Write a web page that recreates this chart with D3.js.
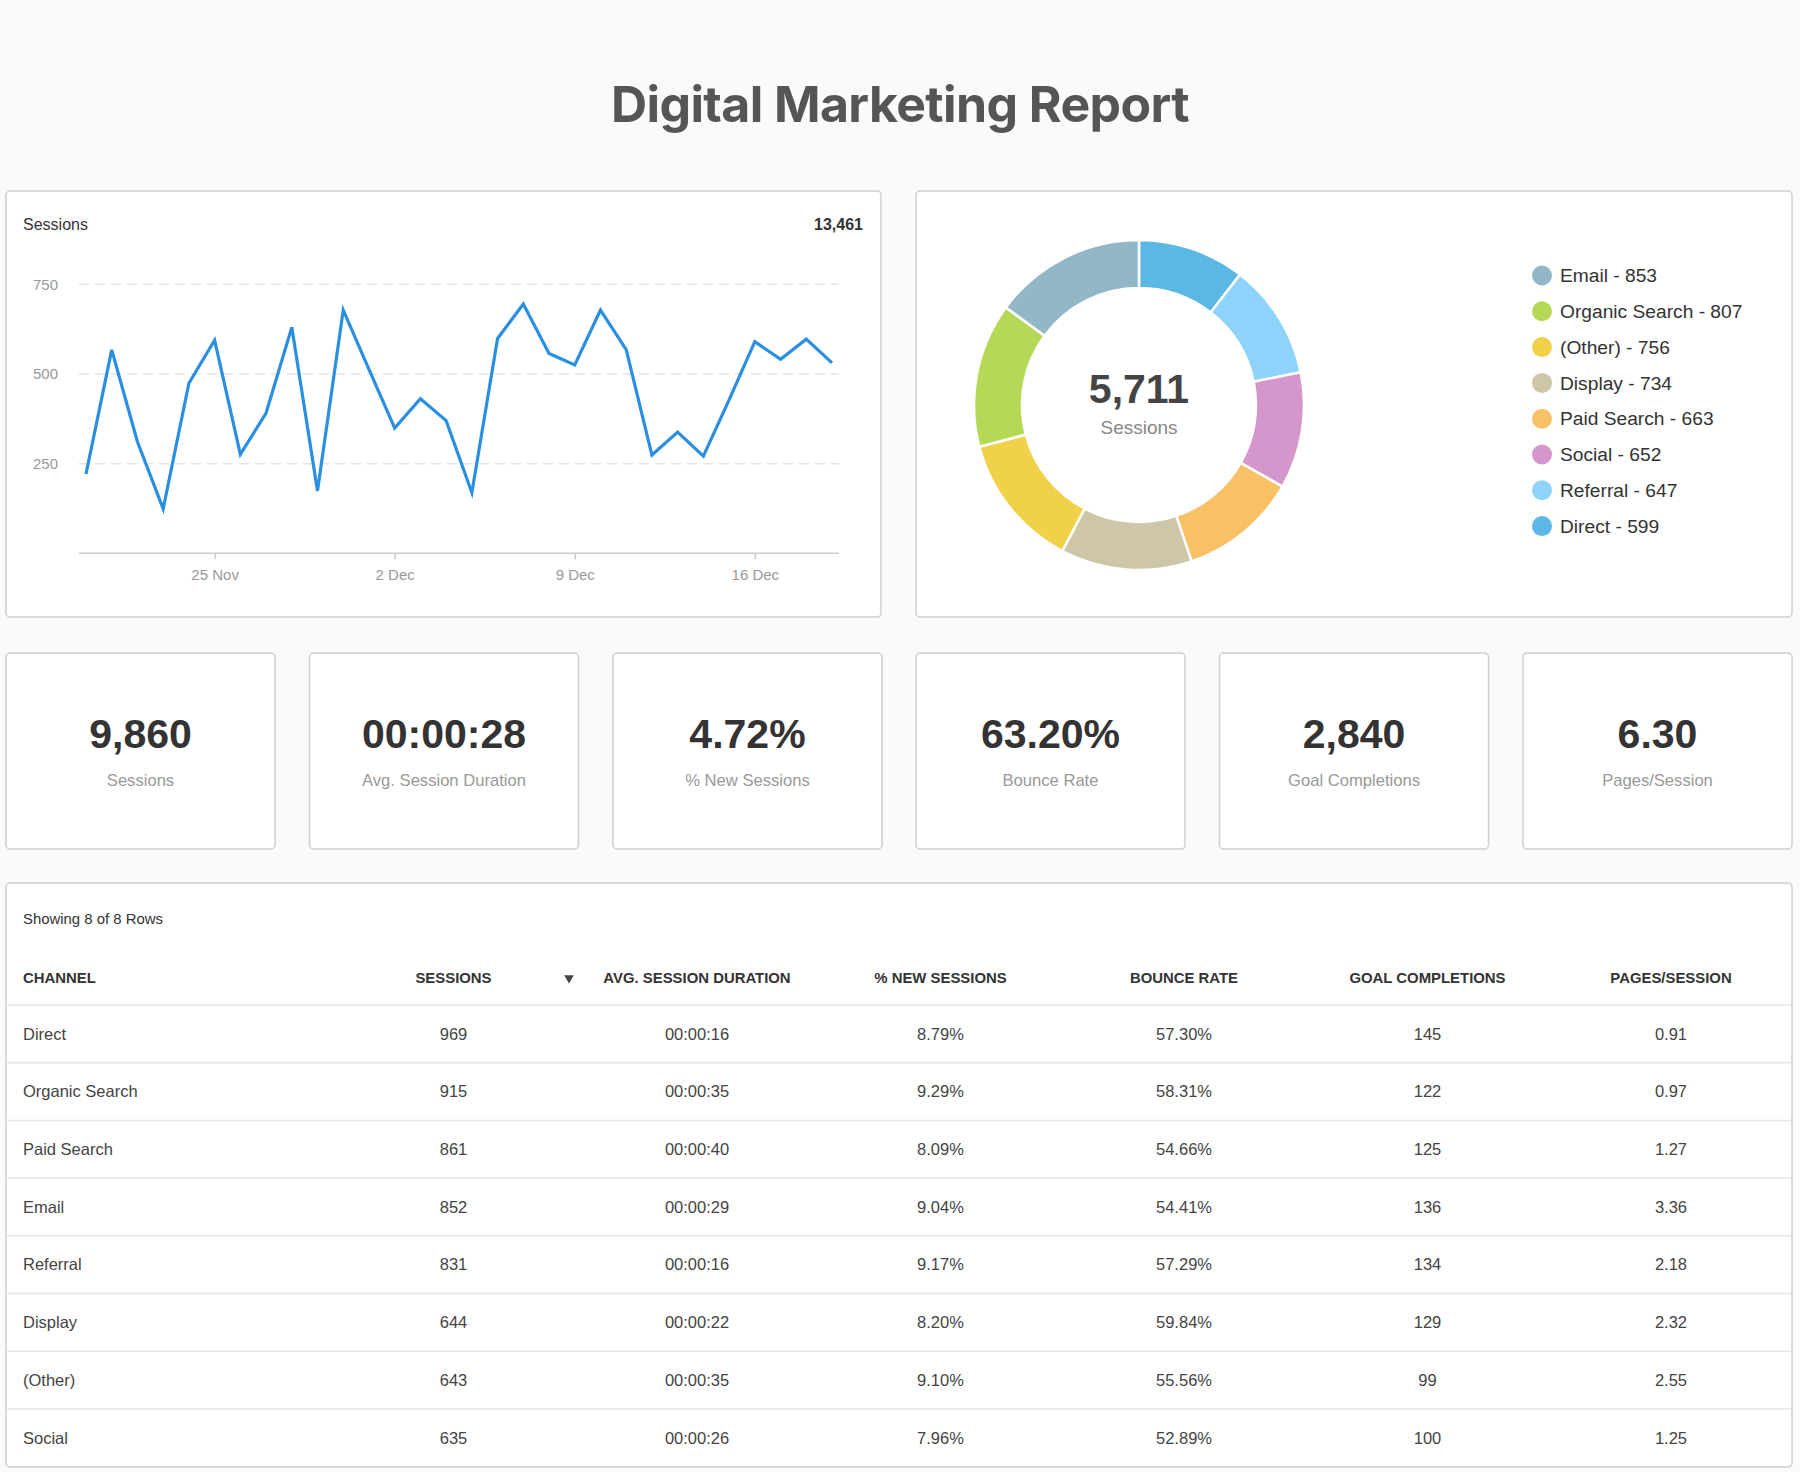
<!DOCTYPE html>
<html>
<head>
<meta charset="utf-8">
<script src="https://cdn.jsdelivr.net/npm/d3@7"></script>
<style>
  html, body { margin: 0; padding: 0; background: #fafafa; }
  svg { display: block; }
  text { font-family: "Liberation Sans", Arial, sans-serif; }
</style>
</head>
<body>
<svg id="chart" width="1800" height="1472"></svg>
<script>
// ---------- DATA ----------
const reportTitle = "Digital Marketing Report";

const sessionDates = d3.timeDays(new Date(2023, 10, 20), new Date(2023, 11, 20)); // 20 Nov .. 19 Dec
const sessionValues = [221, 567, 311, 124, 474, 594, 276, 391, 630, 174,
                       678, 513, 349, 431, 370, 169, 599, 695, 557, 525,
                       678, 568, 274, 338, 271, 428, 590, 541, 597, 531];
const sessionTotal = "13,461";
const yTicks = [250, 500, 750];
const xTickDates = [new Date(2023, 10, 25), new Date(2023, 11, 2), new Date(2023, 11, 9), new Date(2023, 11, 16)];

const donutChannels = ["Direct", "Referral", "Social", "Paid Search", "Display", "(Other)", "Organic Search", "Email"];
const donutValues   = [599, 647, 652, 663, 734, 756, 807, 853];
const donutColors   = ["#5bb8e4", "#8ed3fc", "#d596cb", "#f9c166", "#cdc6a8", "#f1d04a", "#b5d957", "#92b7c6"];
const donutTotal = "5,711";
const donutLabel = "Sessions";

const kpiValues = ["9,860", "00:00:28", "4.72%", "63.20%", "2,840", "6.30"];
const kpiLabels = ["Sessions", "Avg. Session Duration", "% New Sessions", "Bounce Rate", "Goal Completions", "Pages/Session"];

const tableCaption = "Showing 8 of 8 Rows";
const tableHeaders = ["CHANNEL", "SESSIONS", "AVG. SESSION DURATION", "% NEW SESSIONS", "BOUNCE RATE", "GOAL COMPLETIONS", "PAGES/SESSION"];
const tableChannels = ["Direct", "Organic Search", "Paid Search", "Email", "Referral", "Display", "(Other)", "Social"];
const tableSessions = ["969", "915", "861", "852", "831", "644", "643", "635"];
const tableDuration = ["00:00:16", "00:00:35", "00:00:40", "00:00:29", "00:00:16", "00:00:22", "00:00:35", "00:00:26"];
const tableNewSess  = ["8.79%", "9.29%", "8.09%", "9.04%", "9.17%", "8.20%", "9.10%", "7.96%"];
const tableBounce   = ["57.30%", "58.31%", "54.66%", "54.41%", "57.29%", "59.84%", "55.56%", "52.89%"];
const tableGoals    = ["145", "122", "125", "136", "134", "129", "99", "100"];
const tablePages    = ["0.91", "0.97", "1.27", "3.36", "2.18", "2.32", "2.55", "1.25"];

// ---------- DRAW ----------
const svg = d3.select("#chart");
const cardStroke = "#cfcfcf";

function card(x, y, w, h) {
  svg.append("rect").attr("x", x).attr("y", y).attr("width", w).attr("height", h)
    .attr("rx", 4).attr("fill", "#fff").attr("stroke", cardStroke).attr("stroke-width", 1.5);
}

// Title
svg.append("text").attr("x", 900).attr("y", 122).attr("text-anchor", "middle")
  .style("font-family", "Inter, 'Open Sans', sans-serif").style("font-weight", 700)
  .style("font-size", "50px").attr("fill", "#555").attr("letter-spacing", "-0.6")
  .text(reportTitle);

// Cards
card(6, 191, 875, 426);
card(916, 191, 876, 426);
const kpiX = [6, 309.5, 613, 916, 1219.5, 1523];
kpiX.forEach(x => card(x, 653, 269, 196));
card(6, 883, 1786, 584);

// ---------- Line chart ----------
const x = d3.scaleTime().domain([sessionDates[0], sessionDates[sessionDates.length - 1]]).range([86, 832]);
const y = d3.scaleLinear().domain([0, 750]).range([553.3, 284.3]);

svg.append("text").attr("x", 23).attr("y", 230).style("font-size", "16px").attr("fill", "#333").text("Sessions");
svg.append("text").attr("x", 863).attr("y", 230).attr("text-anchor", "end").style("font-size", "16px")
  .style("font-weight", 700).attr("fill", "#333").text(sessionTotal);

const gridG = svg.append("g");
gridG.selectAll("line").data(yTicks).join("line")
  .attr("x1", 79).attr("x2", 839).attr("y1", d => y(d)).attr("y2", d => y(d))
  .attr("stroke", "#e4e4e4").attr("stroke-width", 1.5).attr("stroke-dasharray", "10,6");
gridG.selectAll("text").data(yTicks).join("text")
  .attr("x", 33).attr("y", d => y(d)).attr("dy", "0.35em")
  .style("font-size", "15px").attr("fill", "#999").text(d => d);

svg.append("line").attr("x1", 79).attr("x2", 839).attr("y1", y(0)).attr("y2", y(0))
  .attr("stroke", "#cccccc").attr("stroke-width", 1.5);

const xAxis = svg.append("g").attr("transform", `translate(0,${y(0)})`)
  .call(d3.axisBottom(x).tickValues(xTickDates).tickSize(6).tickSizeOuter(0)
    .tickFormat(d3.timeFormat("%-d %b")));
xAxis.select(".domain").remove();
xAxis.selectAll(".tick line").attr("stroke", "#cccccc").attr("stroke-width", 1.5);
xAxis.selectAll(".tick text").attr("fill", "#999").attr("dy", 0).attr("y", 27)
  .style("font-size", "15px").style("font-family", "'Liberation Sans', Arial, sans-serif");

const line = d3.line().x((d, i) => x(sessionDates[i])).y(d => y(d));
svg.append("path").datum(sessionValues).attr("d", line)
  .attr("fill", "none").attr("stroke", "#2a8fe0").attr("stroke-width", 3.2)
  .attr("stroke-linejoin", "miter");

// ---------- Donut ----------
const cx = 1139, cy = 405;
const pie = d3.pie().sort(null).value(d => d)(donutValues);
const arc = d3.arc().innerRadius(117).outerRadius(165);
const dg = svg.append("g").attr("transform", `translate(${cx},${cy})`);
dg.selectAll("path").data(pie).join("path")
  .attr("d", arc).attr("fill", (d, i) => donutColors[i])
  .attr("stroke", "#fff").attr("stroke-width", 2.5);
dg.append("text").attr("y", -2).attr("text-anchor", "middle")
  .style("font-size", "41px").style("font-weight", 700).attr("fill", "#444").text(donutTotal);
dg.append("text").attr("y", 29).attr("text-anchor", "middle")
  .style("font-size", "19px").attr("fill", "#888").text(donutLabel);

// Legend (descending order)
const legendOrder = d3.range(donutValues.length).sort((a, b) => donutValues[b] - donutValues[a]);
const lg = svg.append("g");
const legRows = lg.selectAll("g").data(legendOrder).join("g")
  .attr("transform", (d, i) => `translate(1542,${275.5 + i * 35.8})`);
legRows.append("circle").attr("r", 10).attr("fill", d => donutColors[d]);
legRows.append("text").attr("x", 18).attr("dy", "0.35em").style("font-size", "19.2px").attr("fill", "#333")
  .text(d => `${donutChannels[d]} - ${donutValues[d]}`);

// ---------- KPI ----------
kpiX.forEach((kx, i) => {
  svg.append("text").attr("x", kx + 134.5).attr("y", 748).attr("text-anchor", "middle")
    .style("font-size", "41px").style("font-weight", 700).attr("fill", "#333").text(kpiValues[i]);
  svg.append("text").attr("x", kx + 134.5).attr("y", 786).attr("text-anchor", "middle")
    .style("font-size", "16.6px").attr("fill", "#999").text(kpiLabels[i]);
});

// ---------- Table ----------
svg.append("text").attr("x", 23).attr("y", 919).attr("dy", "0.35em")
  .style("font-size", "14.9px").attr("fill", "#333").text(tableCaption);

const colCenters = [null, 453.5, 697, 940.5, 1184, 1427.5, 1671];
const headerY = 978;
svg.selectAll(".th").data(tableHeaders).join("text").attr("class", "th")
  .attr("x", (d, i) => i === 0 ? 23 : colCenters[i])
  .attr("y", headerY).attr("dy", "0.35em")
  .attr("text-anchor", (d, i) => i === 0 ? "start" : "middle")
  .style("font-size", "14.9px").style("font-weight", 700).attr("fill", "#333").text(d => d);
// sort arrow
svg.append("path").attr("d", d3.symbol().type(d3.symbolTriangle).size(40)())
  .attr("transform", `translate(569,${headerY}) rotate(180)`).attr("fill", "#444");

const rowH = 57.7;
const firstRowY = 1005;
const rows = tableChannels.map((c, i) => [c, tableSessions[i], tableDuration[i], tableNewSess[i], tableBounce[i], tableGoals[i], tablePages[i]]);
svg.append("line").attr("x1", 6.75).attr("x2", 1791.25).attr("y1", firstRowY).attr("y2", firstRowY)
  .attr("stroke", "#e6e6e6").attr("stroke-width", 1.5);
rows.forEach((r, ri) => {
  const top = firstRowY + ri * rowH;
  if (ri < rows.length - 1) {
    svg.append("line").attr("x1", 6.75).attr("x2", 1791.25).attr("y1", top + rowH).attr("y2", top + rowH)
      .attr("stroke", "#e6e6e6").attr("stroke-width", 1.5);
  }
  r.forEach((v, ci) => {
    svg.append("text").attr("x", ci === 0 ? 23 : colCenters[ci]).attr("y", top + rowH / 2).attr("dy", "0.35em")
      .attr("text-anchor", ci === 0 ? "start" : "middle")
      .style("font-size", "16.5px").attr("fill", "#444").text(v);
  });
});
</script>
</body>
</html>
